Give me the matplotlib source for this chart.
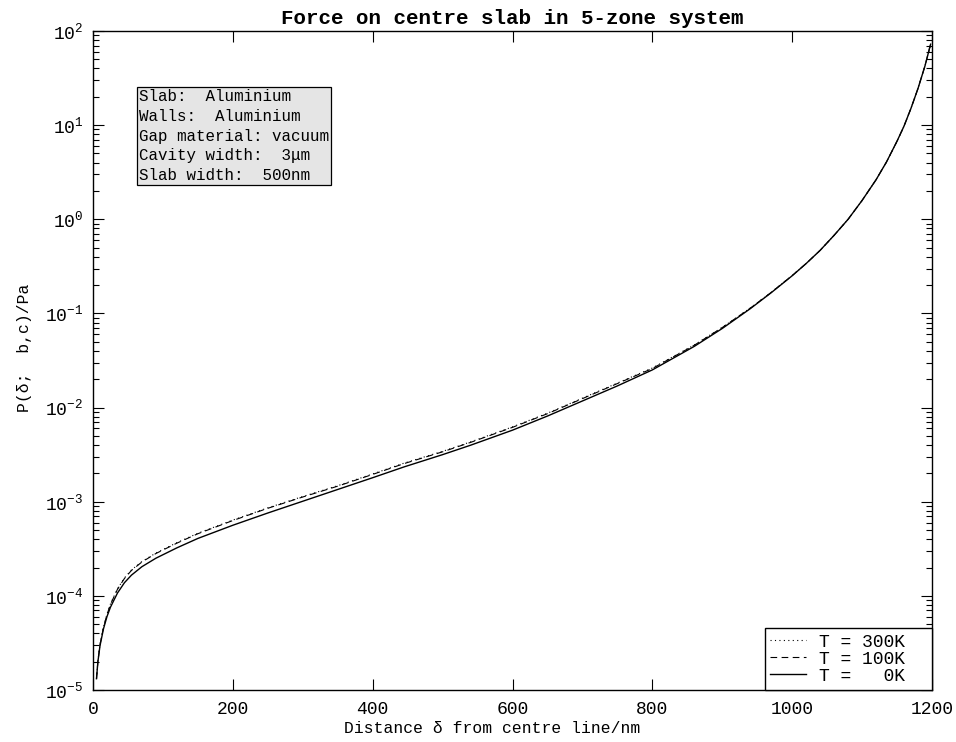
import numpy as np
import matplotlib
matplotlib.use("Agg")
import matplotlib.pyplot as plt
from matplotlib.ticker import LogLocator, NullFormatter, FixedLocator

# Data: distance (nm) and log10 of pressure (Pa)
x_nm = [5, 7, 10, 15, 20, 25, 35, 45, 55, 70, 90, 120, 150, 200, 250, 300, 350,
        400, 445, 500, 540, 600, 650, 700, 750, 800, 860, 900, 940, 970, 1000,
        1020, 1040, 1060, 1080, 1100, 1120, 1135, 1150, 1160, 1170, 1180, 1190, 1198]
log_p_0K = [-4.88, -4.70, -4.53, -4.35, -4.22, -4.12, -3.97, -3.86, -3.78, -3.69,
            -3.60, -3.49, -3.39, -3.25, -3.12, -2.995, -2.87, -2.745, -2.63, -2.50,
            -2.40, -2.24, -2.09, -1.93, -1.77, -1.60, -1.35, -1.16, -0.95, -0.78,
            -0.60, -0.47, -0.33, -0.17, 0.00, 0.20, 0.42, 0.61, 0.83, 0.99,
            1.18, 1.39, 1.63, 1.86]
log_p_100K = [-4.88, -4.695, -4.52, -4.335, -4.20, -4.09, -3.93, -3.815, -3.73, -3.64,
              -3.55, -3.44, -3.34, -3.20, -3.07, -2.95, -2.835, -2.71, -2.595, -2.47,
              -2.37, -2.21, -2.065, -1.905, -1.745, -1.585, -1.338, -1.15, -0.945, -0.777,
              -0.598, -0.47, -0.33, -0.17, 0.00, 0.20, 0.42, 0.61, 0.83, 0.99,
              1.18, 1.39, 1.63, 1.86]
log_p_300K = [-4.88, -4.69, -4.515, -4.33, -4.195, -4.085, -3.925, -3.81, -3.725, -3.635,
              -3.545, -3.435, -3.335, -3.195, -3.065, -2.945, -2.83, -2.705, -2.59, -2.465,
              -2.365, -2.205, -2.06, -1.90, -1.74, -1.58, -1.335, -1.148, -0.943, -0.776,
              -0.597, -0.47, -0.33, -0.17, 0.00, 0.20, 0.42, 0.61, 0.83, 0.99,
              1.18, 1.39, 1.63, 1.86]

legend_labels = ["T = 300K  ", "T = 100K  ", "T =   0K  "]
info_lines = ["Slab:  Aluminium", "Walls:  Aluminium", "Gap material: vacuum",
              "Cavity width:  3\u03bcm", "Slab width:  500nm"]
x_ticks = [0, 200, 400, 600, 800, 1000, 1200]

mono = "Liberation Mono"
plt.rcParams["font.family"] = [mono, "DejaVu Sans"]
plt.rcParams["mathtext.fontset"] = "custom"
plt.rcParams["mathtext.rm"] = mono
plt.rcParams["mathtext.it"] = mono
plt.rcParams["mathtext.bf"] = mono + ":bold"
plt.rcParams["axes.unicode_minus"] = True

fig = plt.figure(figsize=(9.56, 7.42), dpi=100)
W, H = 956, 742
left, right, top, bottom = 93, 932, 31, 690
ax = fig.add_axes([left / W, 1 - bottom / H, (right - left) / W, (bottom - top) / H])

x = np.array(x_nm, dtype=float)
ax.plot(x, 10 ** np.array(log_p_300K), color="black", lw=0.8, ls=(0, (1, 3)),
        label=legend_labels[0])
ax.plot(x, 10 ** np.array(log_p_100K), color="black", lw=0.8, ls=(0, (6, 4)),
        label=legend_labels[1])
ax.plot(x, 10 ** np.array(log_p_0K), color="black", lw=1.0, ls="-",
        label=legend_labels[2])

ax.set_yscale("log")
ax.set_xlim(0, 1200)
ax.set_ylim(1e-5, 1e2)
ax.xaxis.set_major_locator(FixedLocator(x_ticks))
ax.yaxis.set_major_locator(LogLocator(base=10, numticks=20))
ax.yaxis.set_minor_locator(LogLocator(base=10, subs=np.arange(2, 10), numticks=20))
ax.yaxis.set_minor_formatter(NullFormatter())

ax.tick_params(which="both", direction="in", top=True, right=True,
               labelsize=13, width=0.8)
ax.tick_params(which="major", length=8)
ax.tick_params(which="minor", length=4)
ax.tick_params(axis="x", pad=8)
ax.tick_params(axis="y", pad=7)
for s in ax.spines.values():
    s.set_linewidth(1.0)

ax.set_title("Force on centre slab in 5-zone system", fontsize=15,
             fontweight="bold", pad=5)
ax.set_xlabel("Distance \u03b4 from centre line/nm", fontsize=11.8, va="top")
ax.set_ylabel("P(\u03b4;  b,c)/Pa", fontsize=11.8)
ax.xaxis.set_label_coords(0.476, -0.047)
ax.yaxis.set_label_coords(-0.073, 0.52)

ax.text(0.0545, 0.912, "\n".join(info_lines), transform=ax.transAxes,
        ha="left", va="top", fontsize=11.4, linespacing=1.4,
        bbox=dict(boxstyle="square,pad=0.12", facecolor="#e5e5e5",
                  edgecolor="black", linewidth=0.9))

leg = ax.legend(loc="lower right", borderaxespad=0.0, fontsize=13,
                fancybox=False, framealpha=1, edgecolor="black",
                handlelength=2.0, handletextpad=0.7, labelspacing=0.0,
                borderpad=0.3)
leg.get_frame().set_linewidth(1.0)

fig.savefig("out.png", dpi=100)
